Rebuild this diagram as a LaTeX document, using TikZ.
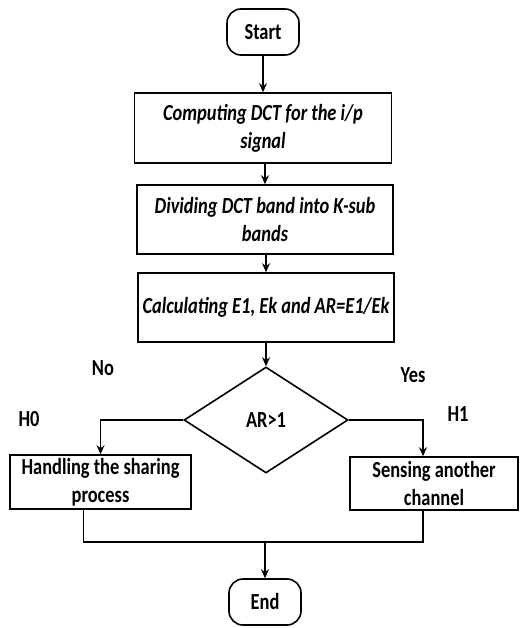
\documentclass[tikz,border=0pt]{standalone}
\usepackage{fontspec}
\setmainfont{Carlito}[FakeStretch=0.8]
\usetikzlibrary{shapes.geometric,arrows.meta}

\tikzset{
  every node/.style={font=\fontsize{23}{28}\selectfont\bfseries, align=center},
  box/.style={draw, line width=1.6pt, inner sep=2pt},
  termbox/.style={draw, line width=1.6pt, rounded corners=14pt, minimum width=72pt, minimum height=46pt},
  decbox/.style={draw, diamond, line width=1.6pt, inner sep=0pt, minimum width=164pt, minimum height=106pt},
  arr/.style={line width=1.6pt, -{Stealth[length=9pt,width=8pt]}},
  link/.style={line width=1.6pt}
}

\begin{document}
\begin{tikzpicture}[x=1pt, y=-1pt]
    \useasboundingbox (0,0) rectangle (519,628);

    % main column
    \node[termbox] (start) at (263,32) {Start};
    \node[box, minimum width=257pt, minimum height=70pt] (dct) at (263,128)
        {\itshape Computing DCT for the i/p\\ \itshape signal};
    \node[box, minimum width=256pt, minimum height=69pt] (split) at (265,219.5)
        {\itshape Dividing DCT band into K-sub\\ \itshape bands};
    \node[box, minimum width=256pt, minimum height=69pt] (ratio) at (266,307.5)
        {\itshape Calculating E1, Ek and AR=E1/Ek};
    \node[decbox] (test) at (266,420) {AR>1};

    % branches
    \node[box, minimum width=181pt, minimum height=54pt] (share) at (100.5,482)
        {Handling the sharing\\ process};
    \node[box, minimum width=168pt, minimum height=53pt] (sense) at (434,483.5)
        {Sensing another\\ channel};
    \node[termbox] (stop) at (265,602) {End};

    % labels
    \node (no) at (103,368) {No};
    \node (yes) at (413,375) {Yes};
    \node (hzero) at (29,419) {H0};
    \node (hone) at (458,414) {H1};

    \coordinate (join) at (265,542);

    % column arrows
    \draw[arr] (start.south) -- (start.south |- dct.north);
    \draw[arr] (dct.south -| split.north) -- (split.north);
    \draw[arr] (split.south -| ratio.north) -- (ratio.north);
    \draw[arr] (ratio.south -| test.north) -- (test.north);

    % decision to branches
    \draw[arr] (test.west) -| (share.north);
    \draw[arr] (test.east) -| ([xshift=-11pt]sense.north);

    % branches to end
    \draw[link] ([xshift=-17pt]share.south) |- (join) -| ([xshift=-11pt]sense.south);
    \draw[arr] (join) -- (stop.north);

\end{tikzpicture}
\end{document}
